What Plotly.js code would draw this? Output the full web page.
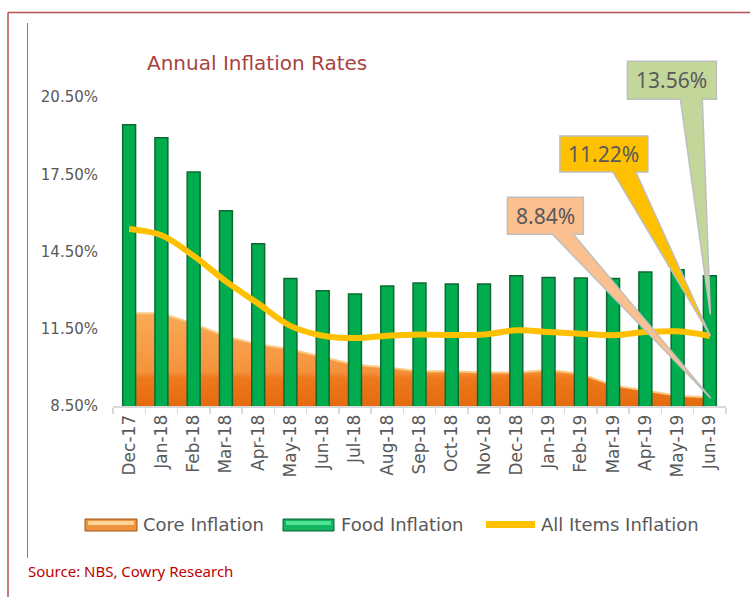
<!DOCTYPE html>
<html>
<head>
<meta charset="utf-8">
<script src="https://cdn.plot.ly/plotly-3.0.1.min.js"></script>
<style>html,body{margin:0;padding:0;background:#fff;}#chart{width:750px;height:597px;}</style>
</head>
<body>
<div id="chart"></div>
<script>
var categories = ['Dec-17','Jan-18','Feb-18','Mar-18','Apr-18','May-18','Jun-18','Jul-18','Aug-18','Sep-18','Oct-18','Nov-18','Dec-18','Jan-19','Feb-19','Mar-19','Apr-19','May-19','Jun-19'];
var coreInflation = [12.10,12.10,11.70,11.20,10.90,10.70,10.40,10.10,10.00,9.85,9.85,9.80,9.80,9.90,9.75,9.30,9.10,8.90,8.84];
var foodInflation = [19.42,18.92,17.59,16.08,14.80,13.45,12.98,12.85,13.16,13.28,13.24,13.24,13.56,13.49,13.47,13.45,13.70,13.79,13.56];
var allItemsInflation = [15.37,15.13,14.33,13.34,12.48,11.61,11.23,11.14,11.23,11.28,11.26,11.28,11.44,11.37,11.31,11.25,11.37,11.40,11.22];
var yTickVals = [8.5,11.5,14.5,17.5,20.5];
var yTickText = yTickVals.map(function(v){return v.toFixed(2)+'%';});
var seriesNames = ['Core Inflation','Food Inflation','All Items Inflation'];

var W = 750, H = 597, ML = 113, MR = 24, MT = 97, MB = 191;
var PW = W - ML - MR, PH = H - MT - MB;
function px2x(px){ return (px - ML) / PW; }
function py2y(py){ return (H - MB - py) / PH; }

var last = categories.length - 1;
var lastCat = categories[last];
var yRange = [8.5, 20.5];
// paper-fraction positions of the last category / a value (for callouts drawn outside the plot area)
var lastCatPaper = (last + 0.5) / categories.length;
function valPaper(v){ return (v - yRange[0]) / (yRange[1] - yRange[0]); }

var traces = [
  {
    type: 'scatter', mode: 'lines', name: seriesNames[0],
    x: categories, y: coreInflation, xaxis: 'x', yaxis: 'y',
    fill: 'tozeroy',
    line: {color: '#FCCB86', width: 2},
    fillcolor: '#F59A45',
    fillgradient: {type: 'vertical', start: 8.5, stop: 12.1,
      colorscale: [[0,'#E46A10'],[0.3,'#EE791C'],[0.37,'#F5933D'],[1,'#FAAA56']]},
    showlegend: false, hoverinfo: 'skip'
  },
  {
    type: 'bar', name: seriesNames[1],
    x: categories, y: foodInflation, xaxis: 'x', yaxis: 'y2',
    base: 0, width: 0.4,
    marker: {color: '#00AC4E', line: {color: '#0C6A30', width: 1.5}},
    showlegend: false, hoverinfo: 'skip'
  },
  {
    type: 'scatter', mode: 'lines', name: seriesNames[2],
    x: categories, y: allItemsInflation, xaxis: 'x', yaxis: 'y2',
    line: {color: '#FFC000', width: 6, shape: 'spline', smoothing: 1},
    showlegend: false, hoverinfo: 'skip'
  }
];

function callout(anchorX, anchorY, xref, yref, rel, fill) {
  // rel: [TLx, topY, TRx, botY, wedgeRightX, tipX, tipY, wedgeLeftX]
  var p = 'M ' + rel[0] + ',' + rel[1] + ' L ' + rel[2] + ',' + rel[1] + ' L ' + rel[2] + ',' + rel[3] +
          ' L ' + rel[4] + ',' + rel[3] + ' L ' + rel[5] + ',' + rel[6] + ' L ' + rel[7] + ',' + rel[3] +
          ' L ' + rel[0] + ',' + rel[3] + ' Z';
  return {type: 'path', xref: xref, yref: yref, xsizemode: 'pixel', ysizemode: 'pixel',
          xanchor: anchorX, yanchor: anchorY, path: p, fillcolor: fill,
          line: {color: '#BFBFBF', width: 1.5}, layer: 'above'};
}

var shapes = [
  // outer borders
  {type:'line', xref:'paper', yref:'paper', x0:px2x(8), x1:px2x(750), y0:py2y(12.5), y1:py2y(12.5), line:{color:'#B5524F', width:1.5}},
  {type:'line', xref:'paper', yref:'paper', x0:px2x(8), x1:px2x(8), y0:py2y(12.5), y1:py2y(597), line:{color:'#B5524F', width:1.5}},
  {type:'line', xref:'paper', yref:'paper', x0:px2x(27.5), x1:px2x(27.5), y0:py2y(23), y1:py2y(558), line:{color:'#7E8F3C', width:1}},
  // callouts
  callout(lastCatPaper, valPaper(foodInflation[last]), 'paper', 'paper', [-82.5, 214.4, 6.5, 176.4, -7.5, 0.5, -38.6, -29.5], '#C4D79B'),
  callout(lastCatPaper, valPaper(allItemsInflation[last]), 'paper', 'paper', [-150, 200, -62, 164, -74, 0.5, 0, -97], '#FFC000'),
  callout(lastCatPaper, valPaper(coreInflation[last]), 'paper', 'paper', [-202.5, 200, -126.5, 163, -136.5, 1, -1, -157.5], '#FAC090'),
  // legend swatches
  {type:'rect', xref:'paper', yref:'paper', x0:px2x(85), x1:px2x(137), y0:py2y(531), y1:py2y(519), fillcolor:'#EE9440', line:{color:'#9C5419', width:1}},
  {type:'rect', xref:'paper', yref:'paper', x0:px2x(88), x1:px2x(134), y0:py2y(525), y1:py2y(521), fillcolor:'#FDD596', line:{width:0}},
  {type:'rect', xref:'paper', yref:'paper', x0:px2x(283), x1:px2x(334), y0:py2y(531), y1:py2y(519), fillcolor:'#12B562', line:{color:'#0B5E2C', width:1}},
  {type:'rect', xref:'paper', yref:'paper', x0:px2x(286), x1:px2x(331), y0:py2y(525), y1:py2y(521), fillcolor:'#4FE393', line:{width:0}},
  {type:'line', xref:'paper', yref:'paper', x0:px2x(486), x1:px2x(535), y0:py2y(524.5), y1:py2y(524.5), line:{color:'#FFC000', width:7}}
];

var legendFont = {family: 'DejaVu Sans', size: 18, color: '#595959'};
var calloutFont = {family: 'Noto Sans', size: 21, color: '#595959'};
var annotations = [
  {xref:'x', yref:'y2', x:lastCat, y:foodInflation[last], xshift:-38, yshift:195.4, text: foodInflation[last].toFixed(2)+'%', showarrow:false, font: calloutFont},
  {xref:'x', yref:'y2', x:lastCat, y:allItemsInflation[last], xshift:-106, yshift:182, text: allItemsInflation[last].toFixed(2)+'%', showarrow:false, font: calloutFont},
  {xref:'x', yref:'y', x:lastCat, y:coreInflation[last], xshift:-164.5, yshift:181.5, text: coreInflation[last].toFixed(2)+'%', showarrow:false, font: calloutFont},
  {xref:'paper', yref:'paper', x:px2x(141), y:py2y(524), xanchor:'left', yanchor:'middle', text: seriesNames[0], showarrow:false, font: legendFont},
  {xref:'paper', yref:'paper', x:px2x(339), y:py2y(524), xanchor:'left', yanchor:'middle', text: seriesNames[1], showarrow:false, font: legendFont},
  {xref:'paper', yref:'paper', x:px2x(539), y:py2y(524), xanchor:'left', yanchor:'middle', text: seriesNames[2], showarrow:false, font: legendFont},
  {xref:'paper', yref:'paper', x:px2x(26), y:py2y(571), xanchor:'left', yanchor:'middle', text:'Source: NBS, Cowry Research', showarrow:false, font:{family:'Noto Sans', size:15, color:'#C00000'}}
];

var layout = {
  width: W, height: H,
  margin: {l: ML, r: MR, t: MT, b: MB, pad: 0},
  paper_bgcolor: '#ffffff', plot_bgcolor: 'rgba(0,0,0,0)',
  showlegend: false,
  title: {text: 'Annual Inflation Rates', x: 147/W, xanchor: 'left', y: 1 - 63/H, yanchor: 'middle',
          font: {family: 'DejaVu Sans', size: 20, color: '#A8433F'}},
  xaxis: {
    type: 'category', showgrid: false, zeroline: false,
    showline: true, linecolor: '#D9D9D9', linewidth: 2,
    ticks: 'outside', tickson: 'boundaries', ticklen: 6, tickcolor: '#D9D9D9', tickwidth: 1.5,
    tickangle: -90, tickfont: {family: 'DejaVu Sans', size: 17, color: '#595959'},
    range: [-0.5, last + 0.5], fixedrange: true
  },
  yaxis: {
    range: yRange, showgrid: false, zeroline: false, showline: false,
    tickvals: yTickVals, ticktext: yTickText, ticks: '', ticklabelstandoff: 14,
    tickfont: {family: 'DejaVu Sans', size: 15, color: '#595959'}, fixedrange: true
  },
  yaxis2: {
    range: yRange, overlaying: 'y', visible: false, showgrid: false, zeroline: false, fixedrange: true
  },
  bargap: 0.6,
  shapes: shapes,
  annotations: annotations
};

Plotly.newPlot('chart', traces, layout, {displayModeBar: false, staticPlot: true});
</script>
</body>
</html>
